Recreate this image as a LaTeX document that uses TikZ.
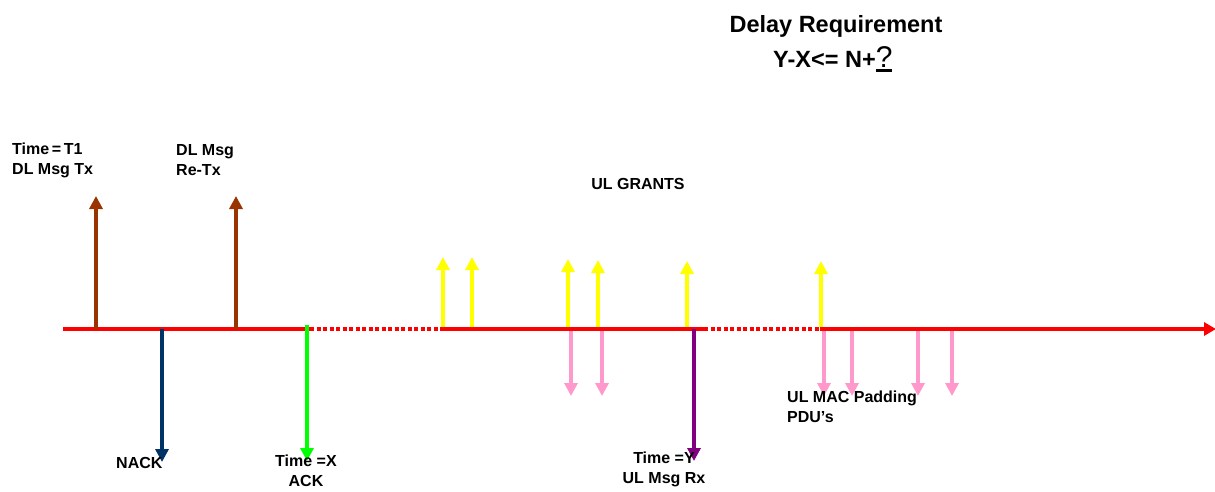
\documentclass[tikz,border=0pt]{standalone}
\usepackage{fontspec}
\setmainfont{Liberation Sans}
\usetikzlibrary{arrows.meta}
\definecolor{axisred}{HTML}{FF0000}
\definecolor{dlbrown}{HTML}{993300}
\definecolor{nacknavy}{HTML}{003366}
\definecolor{ackgreen}{HTML}{00FF00}
\definecolor{grantyellow}{HTML}{FFFF00}
\definecolor{padpink}{HTML}{FF99CC}
\definecolor{rxpurple}{HTML}{800080}
\tikzset{
  arr/.style={line width=4pt,-{Triangle[width=13pt,length=13pt]}},
  axisline/.style={line width=4pt,draw=axisred},
  axisdot/.style={axisline,dash pattern=on 4pt off 2.5pt},
  lbl/.style={inner sep=0pt,font=\fontsize{16}{20}\selectfont\bfseries},
  big/.style={inner sep=0pt,font=\fontsize{23.5}{28}\selectfont\bfseries}
}
\begin{document}
\begin{tikzpicture}[x=1pt,y=-1pt]
\useasboundingbox (0,0) rectangle (1215,491);
% axis coordinates
\coordinate (a0) at (63,329);
\coordinate (a1) at (310,329);
\coordinate (a2) at (440,329);
\coordinate (a3) at (704,329);
\coordinate (a4) at (820,329);
\coordinate (a5) at (1216,329);
\draw[axisline] (a0) -- (a1);
\draw[axisdot] (a1) -- (a2);
\draw[axisline] (a2) -- (a3);
\draw[axisdot] (a3) -- (a4);
\draw[axisline,-{Triangle[width=13pt,length=12pt]}] (a4) -- (a5);
% DL arrows
\coordinate (b1s) at (96,329);  \coordinate (b1e) at (96,196);
\coordinate (b2s) at (236,329); \coordinate (b2e) at (236,196);
\draw[arr,dlbrown] (b1s) -- (b1e);
\draw[arr,dlbrown] (b2s) -- (b2e);
% NACK, ACK, Rx
\coordinate (ns) at (162,329); \coordinate (ne) at (162,462);
\coordinate (gs) at (307,325); \coordinate (ge) at (307,461);
\coordinate (ps) at (694,329); \coordinate (pe) at (694,461);
\draw[arr,nacknavy] (ns) -- (ne);
\draw[arr,ackgreen] (gs) -- (ge);
\draw[arr,rxpurple] (ps) -- (pe);
% UL grants
\foreach \x/\t [count=\i] in {443/257,472/257,568/259,598/260,687/261,821/261}{
  \coordinate (y\i s) at (\x,327);
  \coordinate (y\i e) at (\x,\t);
  \draw[arr,grantyellow] (y\i s) -- (y\i e);
}
% padding PDUs
\foreach \x [count=\i] in {571,602,824,852,918,952}{
  \coordinate (k\i s) at (\x,331);
  \coordinate (k\i e) at (\x,396);
  \draw[arr,padpink] (k\i s) -- (k\i e);
}
% labels
\node[lbl,anchor=north west,align=left] (t1) at (12,143) {Time\,=\,T1\\DL Msg Tx};
\node[lbl,anchor=north west,align=left] (retx) at (176,144) {DL Msg\\Re-Tx};
\node[lbl,anchor=north] (grants) at (638,178) {UL GRANTS};
\node[lbl,anchor=north west] (nack) at (116,457) {NACK};
\node[lbl,anchor=north,align=center] (ackx) at (306,455) {Time =X\\ACK};
\node[lbl,anchor=north,align=center] (timey) at (664,452) {Time =Y\\UL Msg Rx};
\node[lbl,anchor=north west,align=left] (pad) at (787,391) {UL MAC Padding\\PDU’s};
\node[big,anchor=north] (delay) at (836,15) {Delay Requirement};
\node[big,anchor=base west] (req) at (773,67) {Y-X<= N+\setbox0\hbox{\mdseries\fontsize{30}{32}\selectfont ?}\rlap{\rule[-5pt]{\wd0}{2.6pt}}\box0};
\end{tikzpicture}
\end{document}
